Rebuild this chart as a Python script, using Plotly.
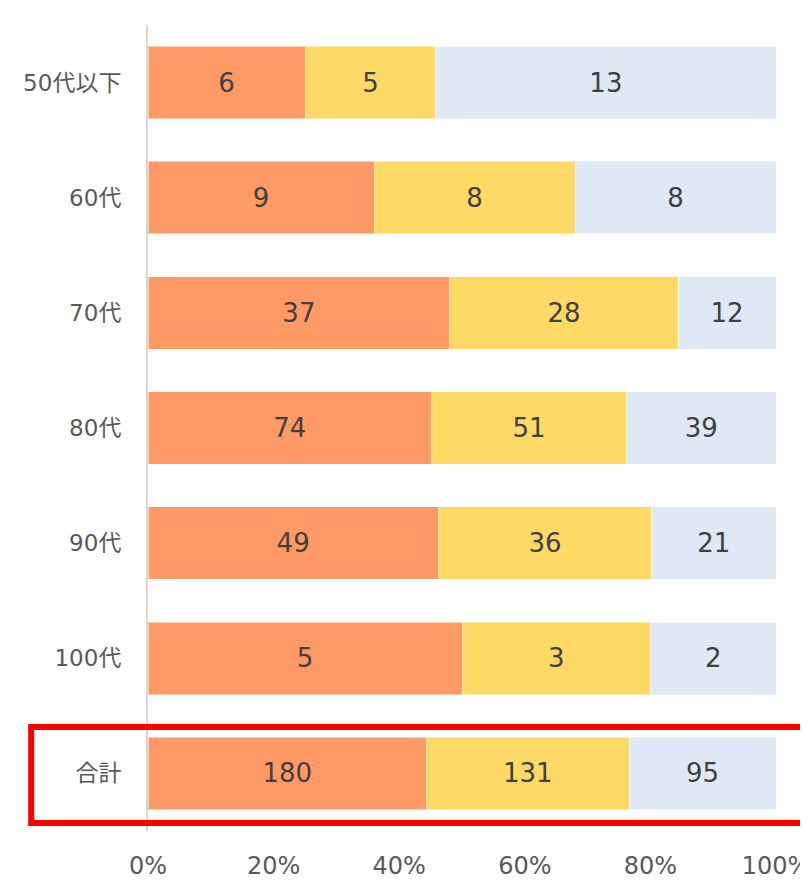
import plotly.graph_objects as go

categories = ["50代以下", "60代", "70代", "80代", "90代", "100代", "合計"]
series_a = [6, 9, 37, 74, 49, 5, 180]
series_b = [5, 8, 28, 51, 36, 3, 131]
series_c = [13, 8, 12, 39, 21, 2, 95]
colors = ["#FF9966", "#FFD966", "#DEE9F5"]
tick_vals = [0, 20, 40, 60, 80, 100]
tick_text = ["0%", "20%", "40%", "60%", "80%", "100%"]

FONT = "DejaVu Sans, Noto Sans CJK JP, sans-serif"

fig = go.Figure()
for vals, col in zip([series_a, series_b, series_c], colors):
    fig.add_trace(go.Bar(
        y=categories, x=vals, orientation="h",
        marker=dict(color=col, line=dict(color="rgba(255,255,255,0.5)", width=1)),
        text=[str(v) for v in vals], textposition="inside",
        insidetextanchor="middle", constraintext="none",
        textfont=dict(family=FONT, size=26, color="#404040"),
        hoverinfo="skip",
    ))

# page body has an 8px default margin, so the figure is 800x876
fig.update_layout(
    barmode="stack", barnorm="percent", bargap=0.37,
    width=800, height=876,
    margin=dict(l=140, r=32, t=17, b=53),
    plot_bgcolor="white", paper_bgcolor="white",
    showlegend=False,
    font=dict(family=FONT, color="#595959"),
    uniformtext=dict(mode=False),
)
fig.update_xaxes(
    range=[0, 100], tickvals=tick_vals, ticktext=tick_text,
    showgrid=False, zeroline=False, showline=False, automargin=False,
    ticklabeloverflow="allow",
    ticks="outside", ticklen=13, tickcolor="rgba(0,0,0,0)",
    tickfont=dict(size=24, color="#595959", family=FONT),
)
fig.update_yaxes(
    categoryorder="array", categoryarray=categories, autorange="reversed",
    showgrid=False, zeroline=False, showline=True, linecolor="#D9D9D9", linewidth=2,
    automargin=False,
    ticks="outside", ticklen=20, tickcolor="rgba(0,0,0,0)",
    tickfont=dict(size=23, color="#595959", family=FONT),
)
fig.add_shape(
    type="rect", xref="paper", yref="paper",
    x0=-0.186, x1=1.2, y0=0.0099, y1=0.129,
    line=dict(color="#FF0000", width=6), fillcolor="rgba(0,0,0,0)", layer="above",
)
fig.write_html("out.html")
